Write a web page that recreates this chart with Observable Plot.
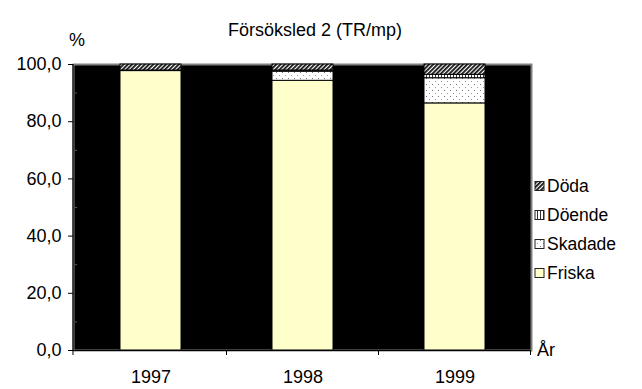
<!DOCTYPE html>
<html>
<head>
<meta charset="utf-8">
<script src="https://cdn.jsdelivr.net/npm/d3@7"></script>
<script src="https://cdn.jsdelivr.net/npm/@observablehq/plot@0.6"></script>
<style>
  body { margin: 0; background: #fff; }
  svg { font-family: Arial, "Liberation Sans", sans-serif; }
</style>
</head>
<body>
<div id="chart"></div>
<script>
// Andel träd per tillstånd (%), försöksled 2 (TR/mp)
const years = ["1997", "1998", "1999"];
const series = ["Friska", "Skadade", "Döende", "Döda"];
const friska = [97.7, 94.3, 86.4];
const skadade = [0.2, 3.2, 8.8];
const doende = [0.0, 0.4, 1.2];
const doda = [2.1, 2.1, 3.6];
const yTicks = [0, 20, 40, 60, 80, 100];
const yMinor = [10, 30, 50, 70, 90];
const fills = ["#FFFFCC", "url(#p-skadade)", "url(#p-doende)", "url(#p-doda)"];

const values = [friska, skadade, doende, doda];
const rows = years.flatMap((year, i) =>
  series.map((serie, j) => ({year, serie, value: values[j][i]}))
);

const font = "Arial, 'Liberation Sans', sans-serif";

const chart = Plot.plot({
  width: 642,
  height: 389,
  marginLeft: 73,
  marginRight: 111,
  marginTop: 64,
  marginBottom: 39,
  style: {fontFamily: font, fontSize: "18px", background: "white", color: "black"},
  x: {domain: years, paddingInner: 0.6, paddingOuter: 0.3, label: null},
  y: {domain: [0, 100], label: null},
  color: {domain: series, range: fills},
  marks: [
    Plot.frame({fill: "black", stroke: "#808080", strokeWidth: 2}),
    Plot.barY(rows, {x: "year", y: "value", fill: "serie", stroke: "black", strokeWidth: 1}),
    Plot.axisY({ticks: yTicks, tickSize: 5, tickPadding: 7,
      tickFormat: d => d.toFixed(1).replace(".", ","), label: null}),
    Plot.axisY({ticks: yMinor, tickSize: -4, tickFormat: () => "", stroke: "#555", label: null}),
    Plot.axisX({tickSize: 0, tickPadding: 20, label: null}),
    Plot.ruleY([0], {stroke: "black", strokeWidth: 1.2})
  ]
});

const svg = d3.select(chart);

// fill patterns for the stacked segments
const defs = svg.insert("defs", ":first-child");
const pDoda = defs.append("pattern").attr("id", "p-doda")
  .attr("patternUnits", "userSpaceOnUse").attr("width", 3).attr("height", 3)
  .attr("patternTransform", "rotate(45)");
pDoda.append("rect").attr("width", 3).attr("height", 3).attr("fill", "white");
pDoda.append("rect").attr("width", 1.8).attr("height", 3).attr("fill", "#111");

const pDoende = defs.append("pattern").attr("id", "p-doende")
  .attr("patternUnits", "userSpaceOnUse").attr("width", 3).attr("height", 3);
pDoende.append("rect").attr("width", 3).attr("height", 3).attr("fill", "white");
pDoende.append("rect").attr("width", 1).attr("height", 3).attr("fill", "#333");

const pSkadade = defs.append("pattern").attr("id", "p-skadade")
  .attr("patternUnits", "userSpaceOnUse").attr("width", 6).attr("height", 6);
pSkadade.append("rect").attr("width", 6).attr("height", 6).attr("fill", "white");
pSkadade.append("rect").attr("x", 0).attr("y", 0).attr("width", 1).attr("height", 1).attr("fill", "#777");
pSkadade.append("rect").attr("x", 3).attr("y", 3).attr("width", 1).attr("height", 1).attr("fill", "#999");

// axis lines and category boundary ticks
const x = chart.scale("x");
const y = chart.scale("y");
const [x0, x1] = x.range;
const yBase = y.apply(0), yTop = y.apply(100);
svg.append("line").attr("x1", x0).attr("x2", x0).attr("y1", yTop).attr("y2", yBase)
  .attr("stroke", "black").attr("stroke-width", 1.2);
const gap = (x.step - x.bandwidth) / 2;
const bounds = [x0, ...years.map(yr => x.apply(yr) + x.bandwidth + gap)];
svg.append("g").selectAll("line").data(bounds).join("line")
  .attr("x1", d => d).attr("x2", d => d).attr("y1", yBase).attr("y2", yBase + 5)
  .attr("stroke", "black");

// title and axis captions
svg.append("text").attr("x", 315).attr("y", 36).attr("text-anchor", "middle")
  .attr("font-size", 18).attr("font-family", font).text("Försöksled 2 (TR/mp)");
svg.append("text").attr("x", 77).attr("y", 46).attr("text-anchor", "middle")
  .attr("font-size", 18).attr("font-family", font).text("%");
svg.append("text").attr("x", x1 + 6).attr("y", yBase + 6).attr("text-anchor", "start")
  .attr("font-size", 18).attr("font-family", font).text("År");

// legend, top to bottom
const color = chart.scale("color");
const legend = svg.append("g").attr("font-family", font).attr("font-size", 17.5)
  .attr("text-anchor", "start");
series.slice().reverse().forEach((s, i) => {
  const cy = 186 + i * 29;
  legend.append("rect").attr("x", x1 + 4).attr("y", cy - 4.5).attr("width", 9).attr("height", 9)
    .attr("fill", color.apply(s)).attr("stroke", "#222");
  legend.append("text").attr("x", x1 + 16).attr("y", cy).attr("dy", "0.35em").text(s);
});

document.getElementById("chart").appendChild(chart);
</script>
</body>
</html>
